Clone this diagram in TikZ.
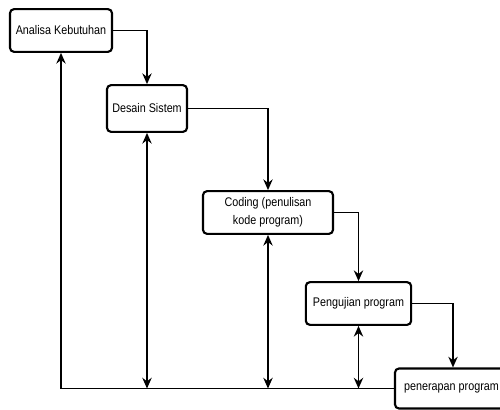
\documentclass[tikz,border=0pt]{standalone}
\usepackage{fontspec}
\setmainfont{Liberation Sans}[FakeStretch=0.86]
\usetikzlibrary{arrows.meta}
\tikzset{
  tahap/.style={draw, line width=1.6pt, rounded corners=3pt, fill=white, inner sep=1pt, align=center, font=\fontsize{9.4}{13.5}\selectfont},
  alur/.style={line width=1.3pt, -{Stealth[length=8pt,width=7pt]}},
  balik/.style={line width=1.3pt, {Stealth[length=8pt,width=7pt]}-{Stealth[length=8pt,width=7pt]}}
}
\begin{document}
\begin{tikzpicture}[x=0.75pt,y=0.75pt,yscale=-1,xscale=1]
\useasboundingbox (0,0) rectangle (500,410);
%Rounded Rect
\node [tahap, minimum width=76.5pt, minimum height=32pt] (analisa) at (61,30.5) {Analisa Kebutuhan};
%Rounded Rect
\node [tahap, minimum width=60pt, minimum height=35pt] (desain) at (147,108.5) {Desain Sistem};
%Rounded Rect
\node [tahap, minimum width=97.5pt, minimum height=32pt] (coding) at (268,212.5) {Coding (penulisan\\kode program)};
%Rounded Rect
\node [tahap, minimum width=79pt, minimum height=32pt] (uji) at (358.5,303.5) {Pengujian program};
%Rounded Rect
\node [tahap, minimum width=87pt, minimum height=30pt] (terap) at (453,388.5) {~~penerapan program~~~};

%Straight Lines
\draw [alur] (analisa.east) -| (desain.north);
\draw [alur] (desain.east) -| (coding.north);
\draw [alur] (coding.east) -| (uji.north);
\draw [alur] (uji.east) -| (terap.north);
%Straight Lines
\draw [alur] (terap.west) -| (analisa.south);
\draw [balik] (desain.south) -- (desain.south |- terap.west);
\draw [balik] (coding.south) -- (coding.south |- terap.west);
\draw [balik] (uji.south) -- (uji.south |- terap.west);
\end{tikzpicture}
\end{document}
